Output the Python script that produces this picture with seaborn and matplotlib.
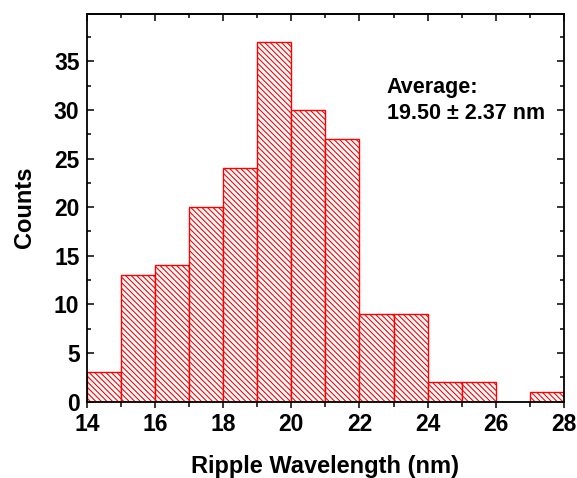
import numpy as np
import pandas as pd
import seaborn as sns
import matplotlib.pyplot as plt
from matplotlib.ticker import MultipleLocator

## data
bin_left = [14, 15, 16, 17, 18, 19, 20, 21, 22, 23, 24, 25, 26, 27]
counts = [3, 13, 14, 20, 24, 37, 30, 27, 9, 9, 2, 2, 0, 1]
note = "Average:\n19.50 \u00b1 2.37 nm"

df = pd.DataFrame({"wavelength": np.array(bin_left) + 0.5, "count": counts})

## plot figure
sns.set_style("ticks")
plt.rcParams['font.family'] = ['Liberation Sans', 'DejaVu Sans']
plt.rcParams['font.weight'] = 'bold'
plt.rcParams['text.color'] = 'black'
plt.rcParams['axes.labelcolor'] = 'black'
plt.rcParams['xtick.color'] = 'black'
plt.rcParams['ytick.color'] = 'black'
plt.rcParams['hatch.color'] = 'red'
plt.rcParams['hatch.linewidth'] = 0.8

fig = plt.figure(figsize=(5.77, 4.78), dpi=100)
ax = fig.add_axes([0.151, 0.160, 0.826, 0.811])

sns.histplot(data=df, x="wavelength", weights="count", binwidth=1,
             binrange=(14, 28), color="red", ax=ax)
for p in ax.patches:
    p.set_facecolor("white")
    p.set_edgecolor("red")
    p.set_linewidth(1)
    p.set_hatch("\\\\\\\\\\\\")
    p.set_alpha(1)

ax.set_xlim(14, 28)
ax.set_ylim(0, 39.9)
ax.xaxis.set_major_locator(MultipleLocator(2))
ax.xaxis.set_minor_locator(MultipleLocator(1))
ax.yaxis.set_major_locator(MultipleLocator(5))
ax.yaxis.set_minor_locator(MultipleLocator(2.5))

for s in ax.spines.values():
    s.set_visible(True)
    s.set_linewidth(1.3)
    s.set_color("black")

# bottom ticks outward, left/right inward
ax.tick_params(axis="x", which="both", direction="out", width=1.1,
               labelsize=16.5, top=False, pad=4)
ax.tick_params(axis="x", which="major", length=4)
ax.tick_params(axis="x", which="minor", length=3.5)
ax.tick_params(axis="y", which="both", direction="in", width=1.1,
               labelsize=16.5, right=True, pad=5.5)
ax.tick_params(axis="y", which="major", length=5)
ax.tick_params(axis="y", which="minor", length=3)

# inward ticks on top
ax2 = ax.secondary_xaxis("top")
ax2.xaxis.set_major_locator(MultipleLocator(2))
ax2.xaxis.set_minor_locator(MultipleLocator(1))
ax2.tick_params(which="both", direction="in", width=1.1, labeltop=False)
ax2.tick_params(which="major", length=5)
ax2.tick_params(which="minor", length=3)
ax2.spines["top"].set_linewidth(1.3)

for lab in ax.get_xticklabels() + ax.get_yticklabels():
    lab.set_fontweight("bold")

ax.set_xlabel("Ripple Wavelength (nm)", fontsize=17, fontweight="bold", labelpad=14)
ax.set_ylabel("Counts", fontsize=17, fontweight="bold", labelpad=13)

ax.text(22.8, 33.4, note, fontsize=15.5, fontweight="bold", va="top",
        ha="left", linespacing=1.3)

## save figure
plt.savefig("out.png", dpi=100)
